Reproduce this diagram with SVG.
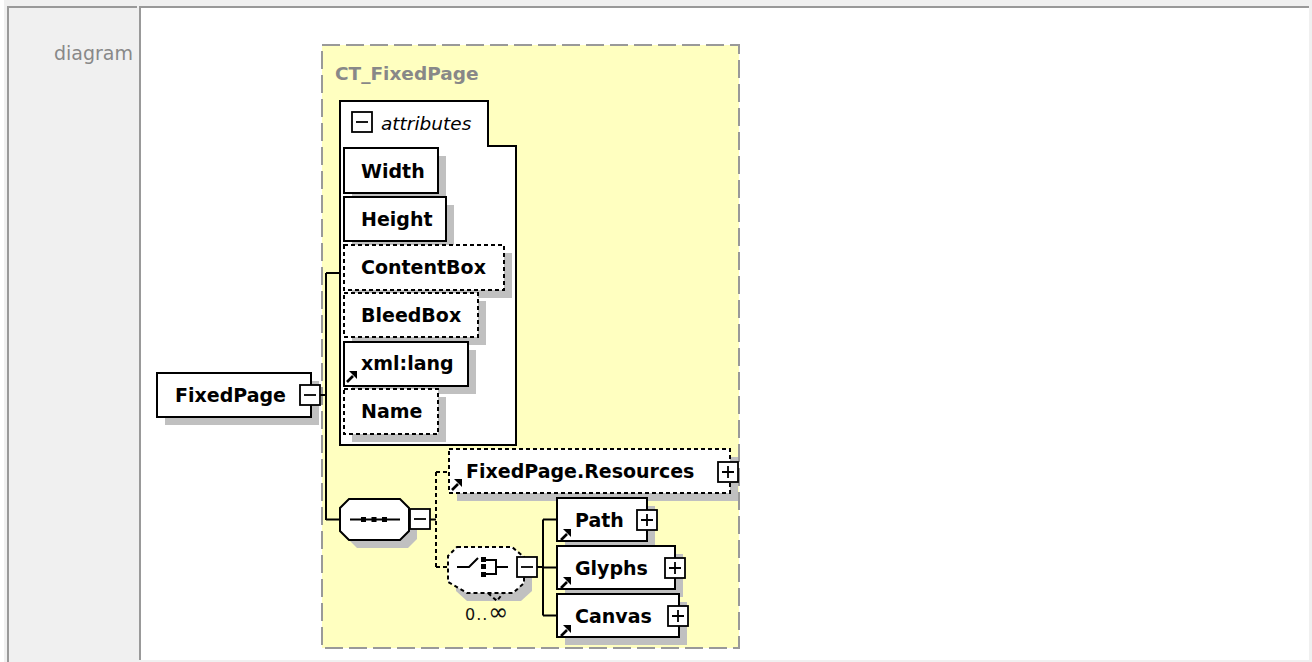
<svg xmlns="http://www.w3.org/2000/svg" width="1312" height="662" viewBox="0 0 1312 662">
<style>
.lbl{font-family:"DejaVu Sans",Verdana,sans-serif;font-weight:bold;font-size:19px;fill:#000}
.box{fill:#fff;stroke:#000;stroke-width:2}
.opt{stroke-dasharray:4 3}
.sh{fill:#c0c0c0}
.c{stroke:#000;stroke-width:2;fill:none}
.dc{stroke:#000;stroke-width:2;fill:none;stroke-dasharray:4 3}
</style>
<defs>
<g id="lnk"><path d="M1,11 L7,5" stroke="#000" stroke-width="2.6"/><path d="M3,0 H11 V8 Z" fill="#000"/></g>
<g id="minus"><rect x="0" y="0" width="20" height="20" fill="#fff" stroke="#000" stroke-width="1.8"/><path d="M4,10 H16" stroke="#000" stroke-width="1.8"/></g>
<g id="plus"><rect x="0" y="0" width="20" height="20" fill="#fff" stroke="#000" stroke-width="1.8"/><path d="M4,10 H16 M10,4 V16" stroke="#000" stroke-width="1.8"/></g>
</defs>
<rect x="0" y="0" width="1312" height="662" fill="#fff"/>
<rect x="4" y="0" width="1308" height="662" fill="#f0f0f0"/>
<g id="label-cell">
<rect x="7" y="6" width="130" height="656" fill="#f0f0f0"/>
<path d="M8,662 V7 H137" fill="none" stroke="#999" stroke-width="2"/>
<text x="133" y="60" text-anchor="end" font-family="DejaVu Sans,Verdana,sans-serif" font-size="19" fill="#888">diagram</text>
</g>
<g id="diagram-cell">
<rect x="139" y="6" width="1170" height="654" fill="#fff"/>
<path d="M140,660 V7 H1309" fill="none" stroke="#999" stroke-width="2"/>
</g>
<g id="CT_FixedPage">
<rect x="322" y="45" width="417" height="603" fill="#ffffc0" stroke="#999" stroke-width="2" stroke-dasharray="18 6"/>
<text x="335" y="80" font-family="DejaVu Sans,Verdana,sans-serif" font-weight="bold" font-size="18.5" fill="#888">CT_FixedPage</text>
</g>
<g id="connectors">
<path class="c" d="M320,395 H326 M326,273 V520 M326,273 H340 M326,519.5 H340"/>
<path class="c" d="M430,519.5 H436"/>
<path class="dc" d="M436,472 V567 M436,472 H449 M436,567 H448"/>
<path class="c" d="M537,567 H543 M543,519.5 V615.5 M543,519.5 H557 M543,567.5 H557 M543,615.5 H557"/>
</g>
<g id="FixedPage">
<rect class="sh" x="165" y="381" width="154" height="44"/>
<rect class="box" x="157" y="373" width="154" height="44"/>
<text class="lbl" x="175" y="402">FixedPage</text>
<use href="#minus" x="300" y="385"/>
</g>
<g id="attributes">
<path class="box" d="M340,101 H488 V146 H516 V445 H340 Z"/>
<use href="#minus" x="352" y="112"/>
<text x="381" y="130" font-family="DejaVu Sans,Verdana,sans-serif" font-style="italic" font-size="18.5" fill="#000">attributes</text>
</g>
<g id="Width">
<rect class="sh" x="352" y="156" width="94" height="45"/>
<rect class="box" x="344" y="148" width="94" height="45"/>
<text class="lbl" x="361" y="178">Width</text>
</g>
<g id="Height">
<rect class="sh" x="352" y="205" width="102" height="44"/>
<rect class="box" x="344" y="197" width="102" height="44"/>
<text class="lbl" x="361" y="226">Height</text>
</g>
<g id="ContentBox">
<rect class="sh" x="352" y="253" width="160" height="45"/>
<rect class="box opt" x="344" y="245" width="160" height="45"/>
<text class="lbl" x="361" y="274">ContentBox</text>
</g>
<g id="BleedBox">
<rect class="sh" x="352" y="301" width="134" height="44"/>
<rect class="box opt" x="344" y="293" width="134" height="44"/>
<text class="lbl" x="361" y="322">BleedBox</text>
</g>
<g id="xml-lang">
<rect class="sh" x="352" y="350" width="124" height="44"/>
<rect class="box" x="344" y="342" width="124" height="44"/>
<text class="lbl" x="361" y="370">xml:lang</text>
<use href="#lnk" x="346" y="371"/>
</g>
<g id="Name">
<rect class="sh" x="352" y="397" width="94" height="45"/>
<rect class="box opt" x="344" y="389" width="94" height="45"/>
<text class="lbl" x="361" y="418">Name</text>
</g>
<g id="sequence">
<path class="sh" d="M357,507 H408 L417,516 V539 L408,548 H357 L348,539 V516 Z"/>
<path class="box" d="M349,499 H400 L409,508 V531 L400,540 H349 L340,531 V508 Z"/>
<path d="M350,519.5 H400" stroke="#000" stroke-width="2"/>
<rect x="361" y="517" width="5" height="5" fill="#000"/>
<rect x="371.5" y="517" width="5" height="5" fill="#000"/>
<rect x="382" y="517" width="5" height="5" fill="#000"/>
<use href="#minus" x="410" y="509"/>
</g>
<g id="FixedPage.Resources">
<rect class="sh" x="457" y="457" width="281" height="44"/>
<rect class="box opt" x="449" y="449" width="281" height="44"/>
<text class="lbl" x="466" y="478">FixedPage.Resources</text>
<use href="#lnk" x="451" y="479"/>
<use href="#plus" x="718" y="462"/>
</g>
<g id="choice">
<path class="sh" d="M465,555 H520 L532,565 V591 L521,601 H467 L456,591 V565 Z"/>
<path class="box opt" d="M457,547 H512 L524,557 V583 L513,593 H467 L448,582 V556 Z"/>
<path class="dc" d="M488,593 L497,601 L503,593"/>
<path d="M457,567 H469 L478,558" stroke="#000" stroke-width="2" fill="none"/>
<rect x="481" y="557" width="5" height="5" fill="#000"/>
<rect x="481" y="564" width="5" height="5" fill="#000"/>
<rect x="481" y="572" width="5" height="5" fill="#000"/>
<path d="M486,560 H496 V574 H486 M496,567 H508" stroke="#000" stroke-width="2" fill="none"/>
<use href="#minus" x="517" y="557"/>
<text x="465" y="620" font-family="DejaVu Sans,Verdana,sans-serif" font-size="16" letter-spacing="1" fill="#111">0..<tspan font-size="24">∞</tspan></text>
</g>
<g id="Path">
<rect class="sh" x="565" y="506" width="90" height="43"/>
<rect class="box" x="557" y="498" width="90" height="43"/>
<text class="lbl" x="575" y="526.5">Path</text>
<use href="#lnk" x="560" y="529"/>
<use href="#plus" x="637" y="510"/>
</g>
<g id="Glyphs">
<rect class="sh" x="565" y="554" width="118" height="43"/>
<rect class="box" x="557" y="546" width="118" height="43"/>
<text class="lbl" x="575" y="574.5">Glyphs</text>
<use href="#lnk" x="560" y="577"/>
<use href="#plus" x="665" y="558"/>
</g>
<g id="Canvas">
<rect class="sh" x="565" y="602" width="122" height="43"/>
<rect class="box" x="557" y="594" width="122" height="43"/>
<text class="lbl" x="575" y="622.5">Canvas</text>
<use href="#lnk" x="560" y="625"/>
<use href="#plus" x="668" y="606"/>
</g>
</svg>
